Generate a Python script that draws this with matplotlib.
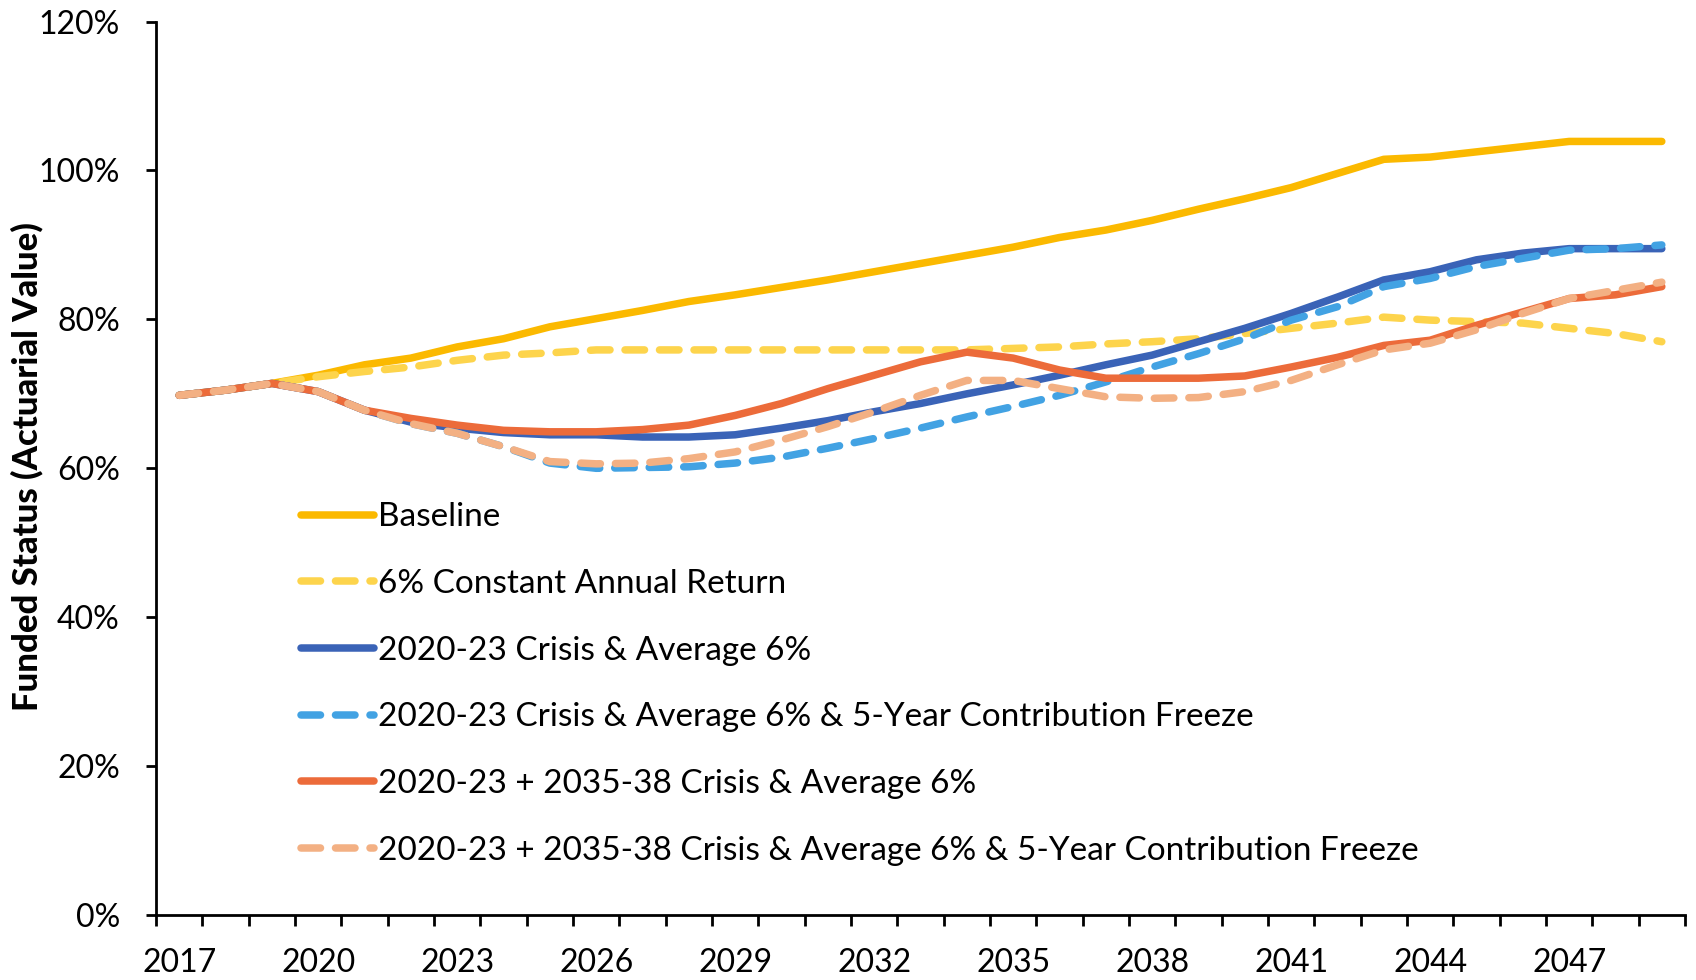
import matplotlib
matplotlib.use("Agg")
import matplotlib.pyplot as plt
from matplotlib.ticker import FixedLocator, PercentFormatter

plt.rcParams['font.family'] = ['Lato', 'DejaVu Sans']

years = list(range(2017, 2050))

baseline = [69.8, 70.5, 71.4, 72.5, 73.9, 74.8, 76.3, 77.4, 79.0, 80.1, 81.2, 82.4,
            83.3, 84.3, 85.3, 86.4, 87.5, 88.6, 89.7, 91.0, 92.0, 93.3, 94.8, 96.2,
            97.7, 99.6, 101.5, 101.8, 102.5, 103.2, 103.9, 103.9, 103.9]
const6 = [69.8, 70.5, 71.4, 72.3, 73.0, 73.6, 74.5, 75.2, 75.5, 75.9, 75.9, 75.9,
          75.9, 75.9, 75.9, 75.9, 75.9, 75.9, 76.1, 76.3, 76.7, 77.0, 77.4, 78.1,
          78.8, 79.5, 80.3, 79.9, 79.7, 79.5, 78.8, 78.1, 77.0]
crisis = [69.8, 70.5, 71.4, 70.3, 67.8, 66.2, 65.4, 64.8, 64.5, 64.5, 64.2, 64.2,
          64.5, 65.4, 66.4, 67.6, 68.7, 70.0, 71.2, 72.5, 73.9, 75.2, 77.0, 78.8,
          80.8, 83.0, 85.3, 86.4, 88.0, 88.9, 89.5, 89.5, 89.5]
crisis_freeze = [69.8, 70.5, 71.4, 70.3, 67.8, 66.0, 64.7, 62.9, 60.7, 60.0, 60.1, 60.2,
                 60.7, 61.5, 62.7, 64.0, 65.4, 66.9, 68.3, 69.8, 71.6, 73.6, 75.4, 77.4,
                 79.9, 81.7, 84.4, 85.5, 87.1, 88.2, 89.3, 89.5, 90.0]
double = [69.8, 70.5, 71.4, 70.3, 67.8, 66.7, 65.8, 65.1, 64.9, 64.9, 65.2, 65.8,
          67.1, 68.7, 70.7, 72.5, 74.3, 75.6, 74.8, 73.2, 72.1, 72.1, 72.1, 72.4,
          73.6, 74.9, 76.5, 77.2, 79.2, 81.0, 82.8, 83.3, 84.4]
double_freeze = [69.8, 70.5, 71.4, 70.3, 67.8, 66.0, 64.7, 62.9, 60.9, 60.6, 60.7, 61.3,
                 62.2, 63.8, 65.6, 67.6, 69.8, 71.8, 71.8, 70.7, 69.6, 69.4, 69.5, 70.3,
                 71.8, 73.9, 75.9, 76.8, 78.6, 80.8, 82.8, 83.9, 85.0]

labels = ["Baseline",
          "6% Constant Annual Return",
          "2020-23 Crisis & Average 6%",
          "2020-23 Crisis & Average 6% & 5-Year Contribution Freeze",
          "2020-23 + 2035-38 Crisis & Average 6%",
          "2020-23 + 2035-38 Crisis & Average 6% & 5-Year Contribution Freeze"]

fig = plt.figure(figsize=(16.96, 9.8), dpi=100)
ax = fig.add_axes([0.092, 0.0663, 0.9015, 0.9117])

lw = 5.4
dash = (2.6, 2.0)
series = [
    (baseline, "#FBB900", False),
    (const6, "#FDD44C", True),
    (crisis, "#3A63B7", False),
    (crisis_freeze, "#42A2E3", True),
    (double, "#EC6B3A", False),
    (double_freeze, "#F3B083", True),
]
for (vals, col, dashed), lab in zip(series, labels):
    if dashed:
        ax.plot(years, vals, color=col, lw=lw, label=lab, dashes=dash,
                dash_capstyle='round', solid_joinstyle='round')
    else:
        ax.plot(years, vals, color=col, lw=lw, label=lab,
                solid_capstyle='round', solid_joinstyle='round')

ax.set_xlim(2016.5, 2049.5)
ax.set_ylim(0, 120)
ax.set_yticks(range(0, 121, 20))
ax.yaxis.set_major_formatter(PercentFormatter(decimals=0))
ax.set_xticks(list(range(2017, 2048, 3)))
ax.xaxis.set_minor_locator(FixedLocator([y - 0.5 for y in range(2017, 2051)]))

ax.spines['top'].set_visible(False)
ax.spines['right'].set_visible(False)
for s in ['left', 'bottom']:
    ax.spines[s].set_linewidth(2)
ax.tick_params(axis='y', length=7, width=2, labelsize=23, pad=19)
ax.tick_params(axis='x', which='major', length=0, labelsize=23, pad=24)
ax.tick_params(axis='x', which='minor', length=8, width=2)

fig.text(0.016, 0.5235, "Funded Status (Actuarial Value)", rotation=90,
         fontsize=25, fontweight='black', ha='center', va='center')

ax.legend(loc='upper left', bbox_to_anchor=(0.086, 0.477), frameon=False,
          fontsize=24, handlelength=2.2, handletextpad=0.1, labelspacing=1.1,
          borderaxespad=0)

fig.savefig("out.png", dpi=100)
